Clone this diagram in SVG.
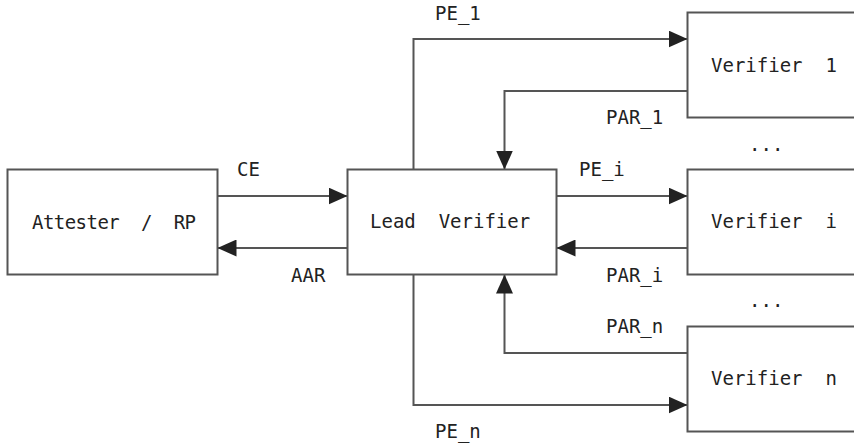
<svg xmlns="http://www.w3.org/2000/svg" width="854" height="444" viewBox="0 0 854 444">
<style>
.box{fill:#fff;stroke:#555;stroke-width:2}
.ln{fill:none;stroke:#555;stroke-width:2}
.t{font-family:"DejaVu Sans Mono","Liberation Mono",monospace;font-size:19px;fill:#222;white-space:pre}
</style>
<defs>
<marker id="ah" markerUnits="userSpaceOnUse" markerWidth="19" markerHeight="17" refX="19" refY="8.5" orient="auto">
<path d="M0,0 L19,8.5 L0,17 z" fill="#222"/>
</marker>
</defs>
<rect width="854" height="444" fill="#fff"/>
<g id="connectors">
<path class="ln" d="M217.5,196 H347.5" marker-end="url(#ah)"/>
<path class="ln" d="M347.5,248 H217.5" marker-end="url(#ah)"/>
<path class="ln" d="M413.5,169.5 V39 H687.5" marker-end="url(#ah)"/>
<path class="ln" d="M687.5,91 H504.5 V169.5" marker-end="url(#ah)"/>
<path class="ln" d="M556.5,196 H687.5" marker-end="url(#ah)"/>
<path class="ln" d="M687.5,248 H556.5" marker-end="url(#ah)"/>
<path class="ln" d="M687.5,353 H504.5 V274.5" marker-end="url(#ah)"/>
<path class="ln" d="M413.5,274.5 V405 H687.5" marker-end="url(#ah)"/>
<text class="t" x="237" y="176">CE</text>
<text class="t" x="291" y="282">AAR</text>
<text class="t" x="435" y="20">PE_1</text>
<text class="t" x="606" y="124">PAR_1</text>
<text class="t" x="579" y="176">PE_i</text>
<text class="t" x="606" y="282">PAR_i</text>
<text class="t" x="606" y="333">PAR_n</text>
<text class="t" x="435" y="438">PE_n</text>
</g>
<g id="attester">
<rect class="box" x="7.5" y="169.5" width="210" height="105"/>
<text class="t" x="32" y="229" textLength="164" lengthAdjust="spacing">Attester  /  RP</text>
</g>
<g id="lead">
<rect class="box" x="347.5" y="169.5" width="209" height="105"/>
<text class="t" x="370" y="228">Lead  Verifier</text>
</g>
<g id="verifier1">
<rect class="box" x="687.5" y="12.5" width="210" height="105"/>
<text class="t" x="711" y="72">Verifier  1</text>
</g>
<g id="verifieri">
<rect class="box" x="687.5" y="169.5" width="210" height="105"/>
<text class="t" x="711" y="228">Verifier  i</text>
</g>
<g id="verifiern">
<rect class="box" x="687.5" y="326.5" width="210" height="105"/>
<text class="t" x="711" y="385">Verifier  n</text>
</g>
<text class="t" x="749" y="151">...</text>
<text class="t" x="749" y="307">...</text>
</svg>
